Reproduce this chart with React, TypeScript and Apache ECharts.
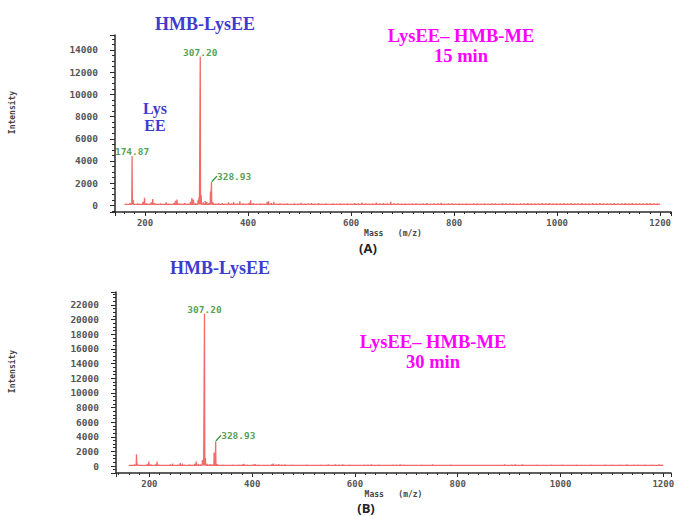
import React, { useEffect, useRef } from "react";
import * as echarts from "echarts";

// ---------- data ----------
// (A) 15 min spectrum: [m/z, intensity]
const sticksA: [number, number][] = [
  [163, 130], [167, 100], [171, 220], [174.87, 4450], [177, 480], [181, 130], [186, 160], [191, 120],
  [196, 320], [199, 680], [203, 210], [208, 150], [212, 260], [215, 560], [219, 190], [224, 130],
  [230, 170], [236, 120], [241, 260], [245, 150], [251, 130], [256, 210], [259, 420], [262, 520],
  [266, 180], [271, 140], [277, 210], [283, 150], [288, 320], [291, 660], [294, 520], [298, 210],
  [303, 460], [305, 720], [307.2, 13400], [309, 900], [313, 260], [317, 380], [320, 300], [324, 200],
  [327, 1250], [328.93, 2100], [332, 260], [337, 150], [343, 190], [350, 210], [356, 150], [362, 260],
  [368, 180], [372, 290], [379, 160], [384, 360], [390, 180], [396, 150], [402, 220], [405, 460],
  [410, 210], [417, 150], [424, 170], [431, 150], [437, 310], [440, 360], [445, 200], [450, 310],
  [456, 150], [462, 180], [469, 140], [476, 170], [483, 130], [490, 160], [497, 150], [503, 230],
  [510, 140], [517, 170], [523, 200], [530, 150], [537, 210], [544, 140], [551, 160], [558, 130],
  [565, 170], [572, 150], [579, 180], [586, 140], [593, 170], [600, 150], [607, 190], [614, 160],
  [621, 250], [628, 170], [635, 150], [642, 180], [649, 240], [656, 160], [663, 200], [670, 170],
  [677, 320], [684, 180], [691, 160], [698, 150], [705, 170], [712, 140], [719, 160], [726, 180],
  [733, 150], [740, 170], [747, 200], [754, 150], [761, 170], [768, 160], [775, 220], [782, 150],
  [789, 170], [796, 160], [803, 150], [810, 170], [817, 140], [824, 160], [831, 150], [838, 170],
  [845, 160], [852, 150], [859, 180], [866, 140], [873, 160], [880, 170], [887, 150], [894, 200],
  [901, 170], [908, 160], [915, 180], [922, 150], [929, 170], [936, 160], [943, 190], [950, 170],
  [957, 180], [964, 160], [971, 190], [978, 170], [985, 200], [992, 160], [999, 180], [1006, 170],
  [1013, 190], [1020, 160], [1027, 200], [1034, 180], [1041, 170], [1048, 190], [1055, 160], [1062, 180],
  [1069, 200], [1076, 170], [1083, 190], [1090, 160], [1097, 180], [1104, 170], [1111, 190], [1118, 160],
  [1125, 180], [1132, 200], [1139, 170], [1146, 190], [1153, 160], [1160, 180], [1167, 170], [1174, 200],
  [1181, 190], [1188, 160], [1195, 170],
];

// (B) 30 min spectrum: [m/z, intensity]
const sticksB: [number, number][] = [
  [163, 120], [168, 100], [171, 200], [174.87, 1600], [177, 300], [182, 130], [187, 150], [192, 120],
  [196, 300], [199, 620], [203, 200], [208, 150], [212, 230], [215, 600], [219, 180], [225, 130],
  [231, 160], [237, 120], [241, 200], [245, 340], [251, 130], [256, 180], [260, 420], [264, 320],
  [268, 170], [273, 140], [278, 200], [283, 150], [288, 300], [291, 620], [295, 280], [299, 200],
  [303, 800], [305, 900], [307.2, 20800], [309, 1100], [313, 300], [318, 260], [322, 220], [326, 1850],
  [328.93, 3400], [332, 240], [338, 150], [344, 180], [350, 160], [356, 150], [362, 190], [368, 160],
  [374, 170], [381, 200], [384, 300], [390, 180], [396, 150], [402, 200], [406, 260], [412, 170],
  [418, 150], [425, 160], [432, 150], [438, 200], [441, 320], [447, 210], [452, 250], [458, 170],
  [464, 200], [471, 150], [478, 170], [485, 140], [492, 160], [499, 150], [506, 170], [513, 140],
  [520, 160], [527, 150], [534, 170], [541, 140], [548, 200], [555, 160], [562, 210], [569, 170],
  [576, 200], [583, 150], [590, 170], [597, 140], [604, 160], [611, 150], [618, 170], [625, 190],
  [632, 200], [639, 150], [646, 170], [653, 140], [660, 160], [667, 150], [674, 170], [681, 190],
  [688, 210], [695, 170], [702, 150], [709, 160], [716, 140], [723, 150], [730, 170], [737, 150],
  [744, 160], [751, 200], [758, 150], [765, 160], [772, 140], [779, 150], [786, 190], [793, 150],
  [800, 160], [807, 140], [814, 150], [821, 160], [828, 140], [835, 150], [842, 160], [849, 140],
  [856, 150], [863, 160], [870, 140], [877, 150], [884, 160], [891, 200], [898, 150], [905, 170],
  [912, 210], [919, 160], [926, 200], [933, 150], [940, 160], [947, 150], [954, 170], [961, 150],
  [968, 160], [975, 150], [982, 170], [989, 160], [996, 150], [1003, 170], [1010, 150], [1017, 160],
  [1024, 150], [1031, 170], [1038, 150], [1045, 160], [1052, 150], [1059, 170], [1066, 150], [1073, 160],
  [1080, 150], [1087, 170], [1094, 160], [1101, 190], [1108, 150], [1115, 180], [1122, 150], [1129, 200],
  [1136, 160], [1143, 170], [1150, 190], [1157, 160], [1164, 180], [1171, 150], [1178, 170], [1185, 160],
  [1192, 220], [1197, 170],
];

const labelledA: [number, number][] = [[174.87, 4450], [307.2, 13400], [328.93, 2100]];
const labelledB: [number, number][] = [[307.2, 20800], [328.93, 3400]];

const baseline = 80;
const rangeStart = 160;
const rangeEnd = 1200;

// axis extents
const xRangeA: [number, number] = [141.7, 1221];
const yRangeA: [number, number] = [-600, 15350];
const xRangeB: [number, number] = [135, 1215];
const yRangeB: [number, number] = [-950, 23770];

const titleMain = "HMB-LysEE";
const noteLys = "Lys\nEE";
const reactionA = "LysEE\u2013 HMB-ME\n15 min";
const reactionB = "LysEE\u2013 HMB-ME\n30 min";
const xName = "Mass   (m/z)";
const yName = "Intensity";

// ---------- helpers ----------
function buildTrace(sticks: [number, number][]): [number, number][] {
  const sorted = [...sticks].sort((a, b) => a[0] - b[0]);
  const out: [number, number][] = [[rangeStart, baseline]];
  for (const [mz, h] of sorted) {
    out.push([mz - 0.6, baseline], [mz, h], [mz + 0.6, baseline]);
  }
  out.push([rangeEnd, baseline]);
  return out;
}

const MONO = "DejaVu Sans Mono";
const SERIF = "Liberation Serif";
const RED = "#f26a6a";
const GREEN = "#2a872a";
const BLUE = "#3c3ccf";
const MAGENTA = "#ff00ff";
const AXIS = "#2a2a2a";

function xAxisCfg(grid: number, range: [number, number]) {
  return {
    type: "value",
    gridIndex: grid,
    min: range[0],
    max: range[1],
    splitNumber: 5,
    name: xName,
    nameLocation: "middle",
    nameGap: 17,
    nameTextStyle: { fontFamily: MONO, fontWeight: "bold", fontSize: 8, color: "#444" },
    axisLine: { show: true, onZero: false, lineStyle: { color: AXIS, width: 1.5 } },
    axisTick: { show: true, length: 4, lineStyle: { color: AXIS } },
    minorTick: { show: true, splitNumber: 10, length: 2, lineStyle: { color: AXIS } },
    axisLabel: {
      showMinLabel: false,
      showMaxLabel: false,
      margin: 6,
      fontFamily: MONO,
      fontWeight: "bold",
      fontSize: 9,
      color: "#555",
      formatter: (v: number) => String(v),
    },
    splitLine: { show: false },
  };
}

function yAxisCfg(grid: number, range: [number, number], split: number, gap: number) {
  return {
    type: "value",
    gridIndex: grid,
    min: range[0],
    max: range[1],
    splitNumber: split,
    name: yName,
    nameLocation: "middle",
    nameGap: gap,
    nameRotate: 90,
    nameTextStyle: { fontFamily: MONO, fontWeight: "bold", fontSize: 8, color: "#444", padding: [0, 0, 0, 22] },
    axisLine: { show: true, onZero: false, lineStyle: { color: AXIS, width: 1.5 } },
    axisTick: { show: true, length: 5, lineStyle: { color: AXIS } },
    minorTick: { show: true, splitNumber: 4, length: 3, lineStyle: { color: AXIS } },
    axisLabel: {
      showMinLabel: false,
      showMaxLabel: false,
      margin: 17,
      fontFamily: MONO,
      fontWeight: "bold",
      fontSize: 9.5,
      color: "#555",
      formatter: (v: number) => String(v),
    },
    splitLine: { show: false },
  };
}

function traceSeries(idx: number, sticks: [number, number][]) {
  return {
    type: "line",
    xAxisIndex: idx,
    yAxisIndex: idx,
    data: buildTrace(sticks),
    symbol: "none",
    silent: true,
    lineStyle: { color: RED, width: 1.3 },
    z: 2,
  };
}

function labelSeries(idx: number, pts: [number, number][]) {
  return {
    type: "scatter",
    xAxisIndex: idx,
    yAxisIndex: idx,
    symbolSize: 1,
    itemStyle: { color: "rgba(0,0,0,0)" },
    silent: true,
    z: 5,
    data: pts.map((p) => {
      const leader = Math.abs(p[0] - 328.93) < 0.01;
      return leader
        ? {
            value: p,
            label: { position: "right", distance: 3 },
            labelLine: { show: true, smooth: 0.4, length2: 0, lineStyle: { color: GREEN, width: 1.2 } },
          }
        : { value: p, label: { position: "top", distance: -1 } };
    }),
    label: {
      show: true,
      formatter: (prm: any) => prm.value[0].toFixed(2),
      fontFamily: MONO,
      fontWeight: "bold",
      fontSize: 9.5,
      color: GREEN,
    },
    labelLayout: (prm: any) =>
      prm.dataIndex === pts.length - 1 ? { dx: 2, dy: -6 } : {},
  };
}

function txt(x: number, y: number, text: string, fill: string, size: number, family: string, lh?: number) {
  return {
    type: "text",
    x,
    y,
    silent: true,
    style: {
      text,
      fill,
      font: `bold ${size}px "${family}"`,
      textAlign: "center",
      textVerticalAlign: "middle",
      lineHeight: lh ?? size + 2,
    },
  };
}

export default function App() {
  const ref = useRef<HTMLDivElement>(null);
  useEffect(() => {
    if (!ref.current) return;
    const chart = echarts.init(ref.current, undefined, { renderer: "svg" });
    chart.setOption({
      animation: false,
      backgroundColor: "#ffffff",
      grid: [
        { left: 115, top: 35, width: 556, height: 177 },
        { left: 116, top: 292, width: 555, height: 181 },
      ],
      xAxis: [xAxisCfg(0, xRangeA), xAxisCfg(1, xRangeB)],
      yAxis: [yAxisCfg(0, yRangeA, 8, 99), yAxisCfg(1, yRangeB, 12, 100)],
      series: [
        traceSeries(0, sticksA),
        labelSeries(0, labelledA),
        traceSeries(1, sticksB),
        labelSeries(1, labelledB),
      ],
      graphic: [
        txt(205, 24, titleMain, BLUE, 18, SERIF),
        txt(155, 117, noteLys, BLUE, 16, SERIF, 17),
        txt(461, 46, reactionA, MAGENTA, 18.5, SERIF, 20),
        txt(368, 248, "(A)", "#222", 13, "Open Sans"),
        txt(220, 268, titleMain, BLUE, 18, SERIF),
        txt(433, 352, reactionB, MAGENTA, 18.5, SERIF, 20),
        txt(366, 508, "(B)", "#222", 13, "Open Sans"),
      ],
    });
    return () => chart.dispose();
  }, []);
  return (
    <div
      ref={ref}
      style={{ position: "fixed", left: 0, top: 0, width: 678, height: 516, background: "#fff" }}
    />
  );
}
